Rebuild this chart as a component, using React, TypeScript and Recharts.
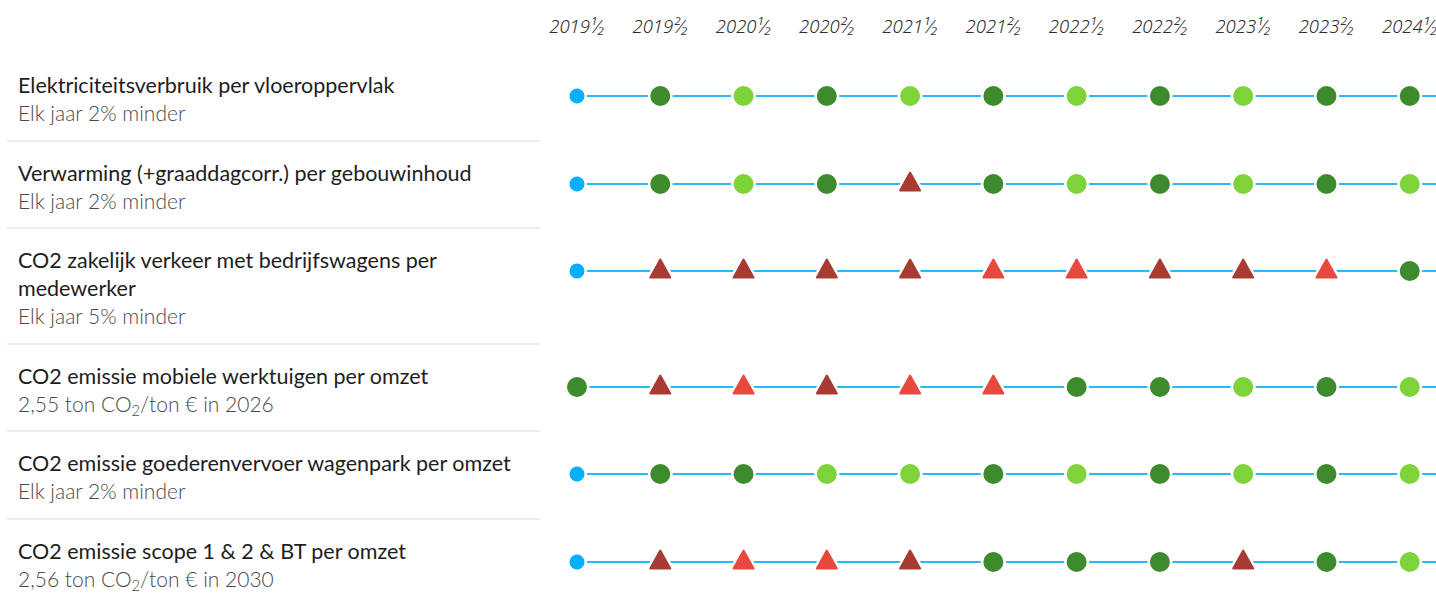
import React from 'react';
import { LineChart, Line, XAxis, YAxis } from 'recharts';

const periods = [
  '2019¹⁄₂', '2019²⁄₂', '2020¹⁄₂', '2020²⁄₂', '2021¹⁄₂', '2021²⁄₂',
  '2022¹⁄₂', '2022²⁄₂', '2023¹⁄₂', '2023²⁄₂', '2024¹⁄₂', '2024²⁄₂',
];

const titles = [
  'Elektriciteitsverbruik per vloeroppervlak',
  'Verwarming (+graaddagcorr.) per gebouwinhoud',
  'CO2 zakelijk verkeer met bedrijfswagens per medewerker',
  'CO2 emissie mobiele werktuigen per omzet',
  'CO2 emissie goederenvervoer wagenpark per omzet',
  'CO2 emissie scope 1 & 2 & BT per omzet',
];

const subtitles = [
  'Elk jaar 2% minder',
  'Elk jaar 2% minder',
  'Elk jaar 5% minder',
  '2,55 ton CO2/ton € in 2026',
  'Elk jaar 2% minder',
  '2,56 ton CO2/ton € in 2030',
];

// status per period: start = baseline, dg = dark green, lg = light green, dr = dark red, r = red; null = not visible
const status1 = ['start', 'dg', 'lg', 'dg', 'lg', 'dg', 'lg', 'dg', 'lg', 'dg', 'dg', null];
const status2 = ['start', 'dg', 'lg', 'dg', 'dr', 'dg', 'lg', 'dg', 'lg', 'dg', 'lg', null];
const status3 = ['start', 'dr', 'dr', 'dr', 'dr', 'r', 'r', 'dr', 'dr', 'r', 'dg', null];
const status4 = ['dg', 'dr', 'r', 'dr', 'r', 'r', 'dg', 'dg', 'lg', 'dg', 'lg', null];
const status5 = ['start', 'dg', 'dg', 'lg', 'lg', 'dg', 'lg', 'dg', 'lg', 'dg', 'lg', null];
const status6 = ['start', 'dr', 'r', 'r', 'dr', 'dg', 'dg', 'dg', 'dr', 'dg', 'lg', null];

const statuses = [status1, status2, status3, status4, status5, status6];

const COLORS: Record<string, string> = {
  start: '#00b0ff',
  dg: '#3d8b2d',
  lg: '#7ed33a',
  dr: '#a83b32',
  r: '#e8493f',
};
const LINE_COLOR = '#2bb8f5';

const CHART_LEFT = 520;
const PAD = { left: 57, right: 20 };
const CHART_W = 57 + 916 + 20;

const renderDot = (props: any) => {
  const { cx, cy, payload, index } = props;
  const s = payload && payload.s;
  if (!s || cx == null || cy == null) return <g key={`d-${index}`} />;
  const c = COLORS[s];
  if (s === 'start') {
    return <circle key={`d-${index}`} cx={cx} cy={cy} r={8.75} fill={c} stroke="#fff" strokeWidth={2.5} />;
  }
  if (s === 'dg' || s === 'lg') {
    return <circle key={`d-${index}`} cx={cx} cy={cy} r={11.25} fill={c} stroke="#fff" strokeWidth={2.5} />;
  }
  const d = `M${cx},${cy - 11.4} L${cx + 10},${cy + 6.6} L${cx - 10},${cy + 6.6} Z`;
  return (
    <g key={`d-${index}`}>
      <path d={d} fill="#fff" stroke="#fff" strokeWidth={7} strokeLinejoin="round" />
      <path d={d} fill={c} stroke={c} strokeWidth={2} strokeLinejoin="round" />
    </g>
  );
};

const renderSub = (t: string) => {
  const parts = t.split('CO2');
  return parts.map((p, i) => (
    <React.Fragment key={i}>
      {p}
      {i < parts.length - 1 && (
        <>
          CO<sub style={{ fontSize: '0.7em', verticalAlign: '-0.25em', lineHeight: 0 }}>2</sub>
        </>
      )}
    </React.Fragment>
  ));
};

const textFont = 'Lato, "Noto Sans", sans-serif';

export default function App() {
  const headerData = periods.map((p) => ({ period: p, v: 0 }));
  return (
    <div style={{ position: 'relative', width: 1436, height: 603, overflow: 'hidden', background: '#fff' }}>
      <style>{'body{margin:0}'}</style>
      <div style={{ display: 'flex', height: 54 }}>
        <div style={{ width: CHART_LEFT, flexShrink: 0 }} />
        <div style={{ flexShrink: 0 }}>
          <LineChart width={CHART_W} height={54} data={headerData} margin={{ top: 0, right: 0, bottom: 0, left: 0 }}>
            <XAxis
              dataKey="period"
              orientation="top"
              height={40}
              padding={PAD}
              axisLine={false}
              tickLine={false}
              tickSize={0}
              tickMargin={7}
              interval={0}
              tick={{ fontStyle: 'italic', fontSize: 18.5, fontWeight: 300, fill: '#2e2e2e', fontFamily: '"Noto Sans", "DejaVu Sans", sans-serif' }}
            />
            <YAxis hide domain={[-1, 1]} />
            <Line dataKey="v" stroke="none" dot={false} activeDot={false} isAnimationActive={false} />
          </LineChart>
        </div>
      </div>
      {titles.map((title, ri) => {
        const data = periods.map((p, i) => ({ period: p, v: 0, s: statuses[ri][i] }));
        return (
          <div key={ri} style={{ display: 'flex' }}>
            <div
              style={{
                width: 533,
                marginLeft: 7,
                flexShrink: 0,
                boxSizing: 'border-box',
                paddingLeft: 11,
                paddingRight: 20,
                paddingTop: 17,
                paddingBottom: 12.5,
                borderBottom: ri < titles.length - 1 ? '2px solid #ececec' : '2px solid transparent',
                fontFamily: textFont,
                lineHeight: '28px',
              }}
            >
              <div style={{ fontSize: 21.5, color: '#1e1e1e' }}>{title}</div>
              <div style={{ fontSize: 21, color: '#4a4a4a', fontWeight: 300 }}>{renderSub(subtitles[ri])}</div>
            </div>
            <div style={{ flexShrink: 0, marginLeft: CHART_LEFT - 540 }}>
              <LineChart width={CHART_W} height={84} data={data} margin={{ top: 0, right: 0, bottom: 0, left: 0 }}>
                <XAxis dataKey="period" hide padding={PAD} />
                <YAxis hide domain={[-1, 1]} />
                <Line
                  type="linear"
                  dataKey="v"
                  stroke={LINE_COLOR}
                  strokeWidth={2}
                  dot={renderDot}
                  activeDot={false}
                  isAnimationActive={false}
                />
              </LineChart>
            </div>
          </div>
        );
      })}
    </div>
  );
}
